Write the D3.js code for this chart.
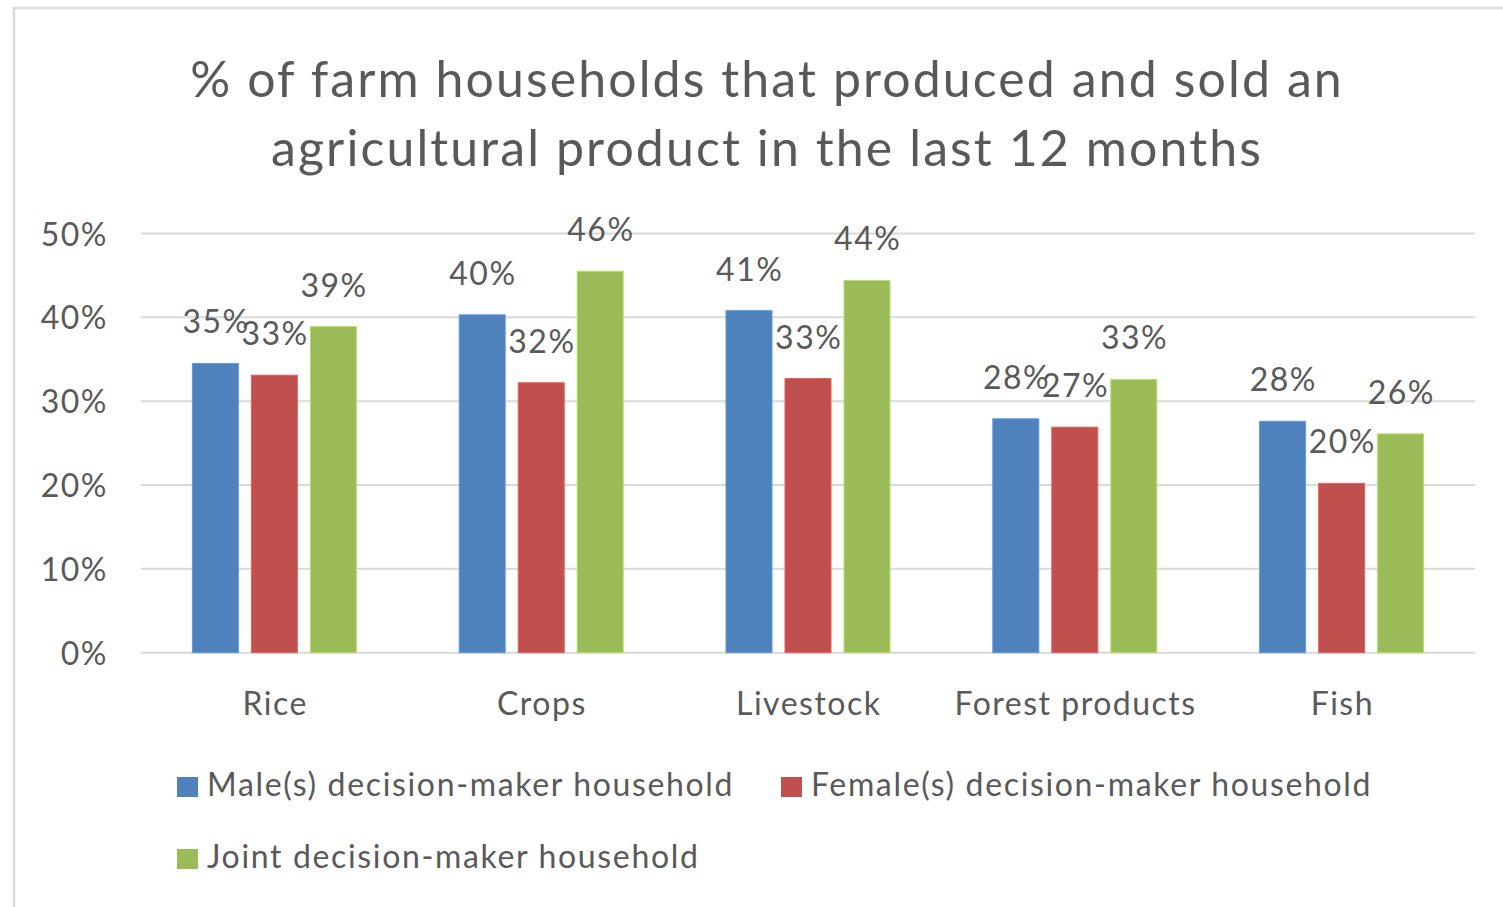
<!DOCTYPE html>
<html>
<head>
<meta charset="utf-8">
<script src="https://cdn.jsdelivr.net/npm/d3@7"></script>
<style>
  html, body { margin: 0; padding: 0; background: #ffffff; }
  svg { display: block; }
</style>
</head>
<body>
<svg id="chart" width="1503" height="907"></svg>
<script>
// ---- data ----
const titleLines = ["% of farm households that produced and sold an", "agricultural product in the last 12 months"];
const categories = ["Rice", "Crops", "Livestock", "Forest products", "Fish"];
const seriesNames = ["Male(s) decision-maker household", "Female(s) decision-maker household", "Joint decision-maker household"];
const maleValues   = [34.5, 40.3, 40.8, 27.9, 27.6];
const femaleValues = [33.1, 32.2, 32.7, 26.9, 20.2];
const jointValues  = [38.9, 45.5, 44.4, 32.6, 26.1];
const yTicks = [0, 10, 20, 30, 40, 50];
const seriesColors = ["#4F81BD", "#C0504D", "#9BBB59"];

const seriesValues = [maleValues, femaleValues, jointValues];

// ---- layout ----
const svg = d3.select("#chart");
const W = 1503, H = 907;
const plot = { left: 141, right: 1475, top: 233.5, bottom: 652.7 };
const textColor = "#595959";
const font = "Lato, 'Open Sans', sans-serif";
const ls = "1.5px";

// outer chart border (left + top visible)
svg.append("rect")
  .attr("x", 14).attr("y", 8)
  .attr("width", W + 20).attr("height", H + 20)
  .attr("fill", "none").attr("stroke", "#d9d9d9").attr("stroke-width", 2.5);

// title
svg.append("g").selectAll("text").data(titleLines).join("text")
  .attr("x", 767)
  .attr("y", (d, i) => 97 + i * 69)
  .attr("text-anchor", "middle")
  .attr("font-family", font)
  .attr("font-size", 50)
  .attr("letter-spacing", "2.1px")
  .attr("fill", textColor)
  .text(d => d);

// scales
const x0 = d3.scaleBand().domain(categories).range([plot.left, plot.right]).paddingInner(0).paddingOuter(0);
const x1 = d3.scaleBand().domain(seriesNames).range([0, x0.bandwidth()]).paddingInner(0.22).paddingOuter(0.871);
const y = d3.scaleLinear().domain([0, 50]).range([plot.bottom, plot.top]);

// gridlines
svg.append("g").selectAll("line").data(yTicks).join("line")
  .attr("x1", plot.left).attr("x2", plot.right)
  .attr("y1", d => y(d)).attr("y2", d => y(d))
  .attr("stroke", "#d9d9d9").attr("stroke-width", 2);

// y axis labels
const yAxis = d3.axisLeft(y).tickValues(yTicks).tickFormat(d => d + "%").tickSize(0).tickPadding(0);
const yg = svg.append("g").attr("transform", `translate(108,0)`).call(yAxis);
yg.select(".domain").remove();
yg.selectAll("text")
  .attr("font-family", font).attr("font-size", 32).attr("fill", textColor)
  .attr("letter-spacing", ls)
  .attr("dy", "0.36em");

// bars
const rows = [];
categories.forEach((c, ci) => {
  seriesNames.forEach((s, si) => rows.push({ cat: c, series: s, si, value: seriesValues[si][ci] }));
});

svg.append("g").selectAll("rect").data(rows).join("rect")
  .attr("x", d => x0(d.cat) + x1(d.series))
  .attr("y", d => y(d.value))
  .attr("width", x1.bandwidth())
  .attr("height", d => y(0) - y(d.value))
  .attr("fill", d => seriesColors[d.si])
  .attr("stroke", d => d3.color(seriesColors[d.si]).brighter(0.5))
  .attr("stroke-width", 1);

// data labels
svg.append("g").selectAll("text").data(rows).join("text")
  .attr("x", d => x0(d.cat) + x1(d.series) + x1.bandwidth() / 2 + 0.75)
  .attr("y", d => y(d.value) - 30)
  .attr("text-anchor", "middle")
  .attr("font-family", font).attr("font-size", 32).attr("fill", textColor)
  .attr("letter-spacing", ls)
  .text(d => Math.round(d.value) + "%");

// category labels
const xAxis = d3.axisBottom(x0).tickSize(0).tickPadding(0);
const xg = svg.append("g").attr("transform", `translate(0.75,715)`).call(xAxis);
xg.select(".domain").remove();
xg.selectAll("text")
  .attr("font-family", font).attr("font-size", 32).attr("fill", textColor)
  .attr("letter-spacing", ls)
  .attr("dy", 0);

// legend
const legendPos = [ {x: 177, y: 796}, {x: 781, y: 796}, {x: 177, y: 868} ];
const lg = svg.append("g").selectAll("g").data(seriesNames).join("g")
  .attr("transform", (d, i) => `translate(${legendPos[i].x},${legendPos[i].y})`);
lg.append("rect")
  .attr("x", 0).attr("y", -19).attr("width", 21).attr("height", 20)
  .attr("fill", (d, i) => seriesColors[i]);
lg.append("text")
  .attr("x", 30).attr("y", 0)
  .attr("font-family", font).attr("font-size", 32).attr("fill", textColor)
  .attr("letter-spacing", "1.65px")
  .text(d => d);
</script>
</body>
</html>
